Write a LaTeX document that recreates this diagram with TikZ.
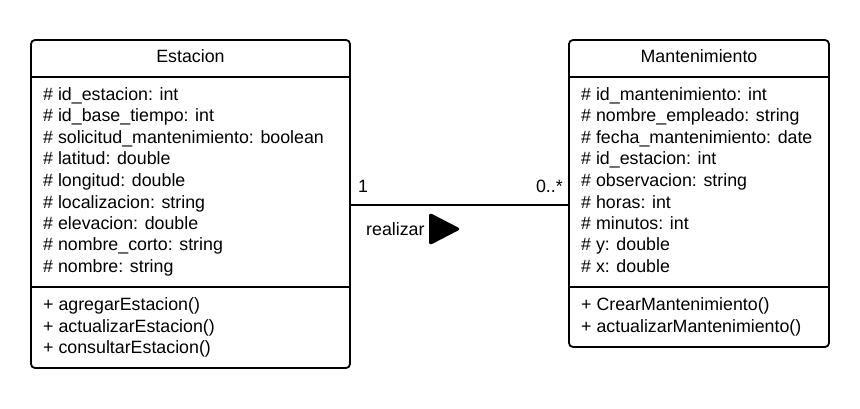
\documentclass[tikz,border=0pt]{standalone}
\usepackage{fontspec}
\setmainfont{Liberation Sans}
\begin{document}
\begin{tikzpicture}[x=1pt,y=-1pt,
  umlbox/.style={draw=black, line width=1.8pt, rounded corners=4pt, inner sep=0pt},
  divline/.style={line width=1.8pt},
  txt/.style={anchor=base west, inner sep=0pt, font=\fontsize{17.8}{21.5}\selectfont},
  ttl/.style={anchor=base, inner sep=0pt, font=\fontsize{17.8}{21.5}\selectfont},
  assoc/.style={line width=1.8pt}]
\useasboundingbox (0,0) rectangle (860,409);
\fill[white] (0,0) rectangle (860,409);
% Estacion box
\node[umlbox, minimum width=319pt, minimum height=328pt] (est) at (190.5,204) {};
\draw[divline] (31,77) -- (350,77);
\draw[divline] (31,287) -- (350,287);
\node[ttl] (estT) at (190.5,62.5) {Estacion};
\node[txt] (ea1) at (43,100.5) {\# id\_estacion: int};
\node[txt] (ea2) at (43,122) {\# id\_base\_tiempo: int};
\node[txt] (ea3) at (43,143.5) {\# solicitud\_mantenimiento: boolean};
\node[txt] (ea4) at (43,165) {\# latitud: double};
\node[txt] (ea5) at (43,186.5) {\# longitud: double};
\node[txt] (ea6) at (43,208) {\# localizacion: string};
\node[txt] (ea7) at (43,229.5) {\# elevacion: double};
\node[txt] (ea8) at (43,251) {\# nombre\_corto: string};
\node[txt] (ea9) at (43,272.5) {\# nombre: string};
\node[txt] (em1) at (43,310.5) {+ agregarEstacion()};
\node[txt] (em2) at (43,332) {+ actualizarEstacion()};
\node[txt] (em3) at (43,353.5) {+ consultarEstacion()};
% Mantenimiento box
\node[umlbox, minimum width=260pt, minimum height=307pt] (man) at (699,193.5) {};
\draw[divline] (569,77) -- (829,77);
\draw[divline] (569,287) -- (829,287);
\node[ttl] (manT) at (699,62.5) {Mantenimiento};
\node[txt] (ma1) at (581,100.5) {\# id\_mantenimiento: int};
\node[txt] (ma2) at (581,122) {\# nombre\_empleado: string};
\node[txt] (ma3) at (581,143.5) {\# fecha\_mantenimiento: date};
\node[txt] (ma4) at (581,165) {\# id\_estacion: int};
\node[txt] (ma5) at (581,186.5) {\# observacion: string};
\node[txt] (ma6) at (581,208) {\# horas: int};
\node[txt] (ma7) at (581,229.5) {\# minutos: int};
\node[txt] (ma8) at (581,251) {\# y: double};
\node[txt] (ma9) at (581,272.5) {\# x: double};
\node[txt] (mm1) at (581,310.5) {+ CrearMantenimiento()};
\node[txt] (mm2) at (581,332) {+ actualizarMantenimiento()};
% association
\coordinate (cy) at (0,205);
\draw[assoc] (est.east |- cy) -- (man.west |- cy);
\node[txt] (m1) at (358,192.5) {1};
\node[txt, anchor=base east] (m2) at (563,192.5) {0..*};
\node[txt] (rl) at (366,235.5) {realizar};
\fill[rounded corners=3pt] (429,212.5) -- (461,229) -- (429,245.5) -- cycle;
\end{tikzpicture}
\end{document}
